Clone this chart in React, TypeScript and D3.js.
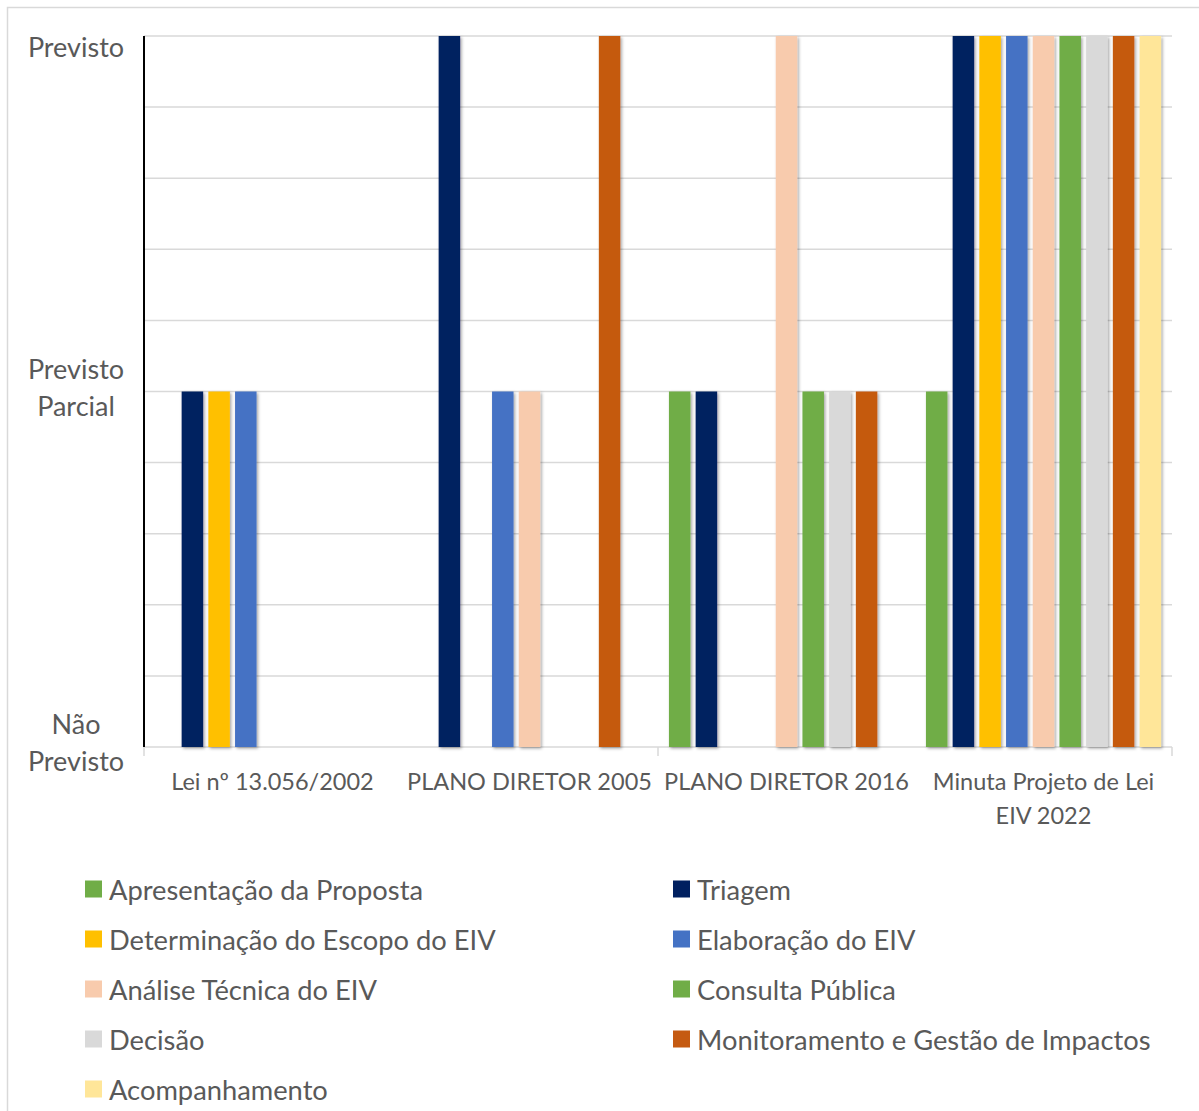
import React from "react";
import * as d3 from "d3";

// Categories (x axis groups)
const categories = [
  ["Lei nº 13.056/2002"],
  ["PLANO DIRETOR 2005"],
  ["PLANO DIRETOR 2016"],
  ["Minuta Projeto de Lei", "EIV 2022"],
];

// Series names and colours
const seriesNames = [
  "Apresentação da Proposta",
  "Triagem",
  "Determinação do Escopo do EIV",
  "Elaboração do EIV",
  "Análise Técnica do EIV",
  "Consulta Pública",
  "Decisão",
  "Monitoramento e Gestão de Impactos",
  "Acompanhamento",
];
const seriesColors = [
  "#70AD47",
  "#002060",
  "#FFC000",
  "#4472C4",
  "#F8CBAD",
  "#70AD47",
  "#D9D9D9",
  "#C55A11",
  "#FFE699",
];

// Values per series (0 = Não Previsto, 1 = Previsto Parcial, 2 = Previsto), one per category
const apresentacao = [0, 0, 1, 1];
const triagem = [1, 2, 1, 2];
const determinacao = [1, 0, 0, 2];
const elaboracao = [1, 1, 0, 2];
const analise = [0, 1, 2, 2];
const consulta = [0, 0, 1, 2];
const decisao = [0, 0, 1, 2];
const monitoramento = [0, 2, 1, 2];
const acompanhamento = [0, 0, 0, 2];
const seriesValues = [
  apresentacao,
  triagem,
  determinacao,
  elaboracao,
  analise,
  consulta,
  decisao,
  monitoramento,
  acompanhamento,
];

// Y tick labels
const yLabels: { v: number; lines: string[] }[] = [
  { v: 2, lines: ["Previsto"] },
  { v: 1, lines: ["Previsto", "Parcial"] },
  { v: 0, lines: ["Não", "Previsto"] },
];

const FONT = "Lato, 'Noto Sans', sans-serif";
const TEXT = "#595959";

export default function App() {
  const W = 1199;
  const H = 1111;
  const left = 144;
  const right = 1172;
  const top = 36;
  const bottom = 747;

  const x0 = d3
    .scaleBand<number>()
    .domain(d3.range(categories.length))
    .range([left, right])
    .padding(0);
  const x1 = d3
    .scaleBand<number>()
    .domain(d3.range(seriesNames.length))
    .range([0, x0.bandwidth()])
    .paddingInner(0.195)
    .paddingOuter(0.41);
  const y = d3.scaleLinear().domain([0, 2]).range([bottom, top]);
  const gridVals = d3.range(0, 11).map((i) => i * 0.2);

  return (
    <svg
      width={W}
      height={H}
      style={{ position: "absolute", left: 0, top: 0, background: "#fff" }}
    >
      <defs>
        <filter id="barShadow" x="-30%" y="-5%" width="160%" height="110%">
          <feDropShadow dx="1.5" dy="1.5" stdDeviation="1.6" floodColor="#000" floodOpacity="0.35" />
        </filter>
      </defs>
      <rect x={7.5} y={7.5} width={1300} height={1300} fill="#fff" stroke="#D9D9D9" strokeWidth={1.5} />

      {/* gridlines */}
      {gridVals.map((v, i) => (
        <line
          key={i}
          x1={left}
          x2={right}
          y1={y(v)}
          y2={y(v)}
          stroke="#D9D9D9"
          strokeWidth={1.5}
        />
      ))}

      {/* category ticks */}
      {[0, 2, 4].map((k) => {
        const xx = left + k * x0.bandwidth();
        return (
          <line key={k} x1={xx} x2={xx} y1={bottom} y2={bottom + 9} stroke="#D9D9D9" strokeWidth={1.5} />
        );
      })}

      {/* bars */}
      {categories.map((_, ci) => (
        <g key={ci} transform={`translate(${x0(ci)},0)`}>
          {seriesNames.map((_, si) => {
            const v = seriesValues[si][ci];
            if (v <= 0) return null;
            return (
              <rect
                key={si}
                x={x1(si)}
                y={y(v)}
                width={x1.bandwidth()}
                height={y(0) - y(v)}
                fill={seriesColors[si]}
                filter="url(#barShadow)"
              />
            );
          })}
        </g>
      ))}

      {/* y axis line */}
      <line x1={left} x2={left} y1={top} y2={bottom} stroke="#000" strokeWidth={2} />

      {/* y labels */}
      {yLabels.map((l, i) => {
        const n = l.lines.length;
        const lh = 37;
        const cy = n === 1 ? y(l.v) + 10 : y(l.v) - 5;
        return (
          <text
            key={i}
            x={76}
            textAnchor="middle"
            fontFamily={FONT}
            fontSize={27}
            fill={TEXT}
          >
            {l.lines.map((s, j) => (
              <tspan key={j} x={76} y={cy + (j - (n - 1) / 2) * lh} dominantBaseline="central">
                {s}
              </tspan>
            ))}
          </text>
        );
      })}

      {/* category labels */}
      {categories.map((lines, ci) => (
        <text key={ci} textAnchor="middle" fontFamily={FONT} fontSize={23.5} fill={TEXT}>
          {lines.map((s, j) => (
            <tspan
              key={j}
              x={(x0(ci) as number) + x0.bandwidth() / 2}
              y={781 + j * 34}
              dominantBaseline="central"
            >
              {s}
            </tspan>
          ))}
        </text>
      ))}

      {/* legend */}
      {seriesNames.map((name, i) => {
        const col = i % 2;
        const row = Math.floor(i / 2);
        const sx = col === 0 ? 85 : 673;
        const cy = 889 + row * 50;
        return (
          <g key={i}>
            <rect x={sx} y={cy - 8.5} width={17} height={17} fill={seriesColors[i]} />
            <text
              x={sx + 24}
              y={cy}
              dominantBaseline="central"
              fontFamily={FONT}
              fontSize={27.3}
              fill={TEXT}
            >
              {name}
            </text>
          </g>
        );
      })}
    </svg>
  );
}
